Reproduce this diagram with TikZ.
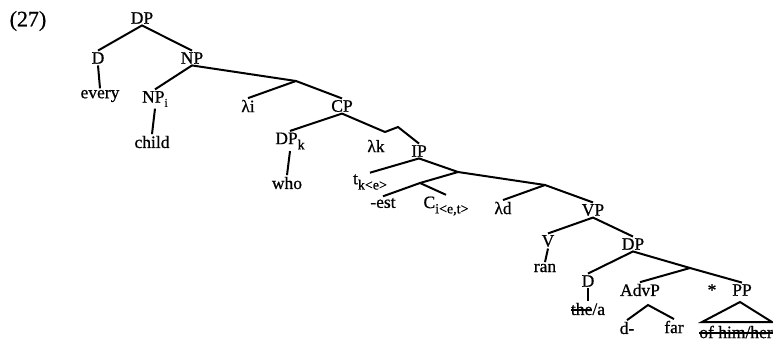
\documentclass[tikz,border=0pt]{standalone}
\usepackage{fontspec}
\setmainfont{Liberation Serif}
% slightly heavier serif for the tree labels
\newfontfamily\treefont{Liberation Serif}[FakeBold=0.7]
% strike a line through a piece of text
\newcommand\struck[1]{\setbox0\hbox{#1}\rlap{\rule[0.25em]{\wd0}{1.6pt}}\box0}
% lowered index, large or small
\newcommand\lowsub[1]{\raisebox{-0.3em}{\fontsize{14}{15}\selectfont #1}}
\newcommand\smallsub[1]{\raisebox{-0.25em}{\fontsize{12}{13}\selectfont #1}}
\begin{document}
\begin{tikzpicture}[x=1pt,y=-1pt,
    lbl/.style={inner sep=1.5pt, font=\treefont\fontsize{17.5}{19}\selectfont},
    branch/.style={line width=2pt}]
\useasboundingbox (0,0) rectangle (773,341);

% labels
\node[inner sep=0pt, font=\treefont\fontsize{22}{24}\selectfont] (ex) at (28,21) {(27)};
\node[lbl] (DP)    at (142,18) {DP};
\node[lbl] (D)     at (98,58)  {D};
\node[lbl] (every) at (100,96) {every};
\node[lbl] (NP)    at (192,58) {NP};
\node[lbl] (NPi)   at (155,99) {NP\smallsub{i}};
\node[lbl] (child) at (152,142){child};
\node[lbl] (li)    at (248,106){λi};
\node[lbl] (CP)    at (342,106){CP};
\node[lbl] (DPk)   at (290,141){DP\lowsub{k}};
\node[lbl] (who)   at (287,183){who};
\node[lbl] (lk)    at (376,146){λk};
\node[lbl] (IP)    at (419,151){IP};
\node[lbl] (tk)    at (370,182){t\lowsub{k<e>}};
\node[lbl] (est)   at (383,203){-est};
\node[lbl] (Ci)    at (446,206){C\lowsub{i<e,t>}};
\node[lbl] (ld)    at (503,208){λd};
\node[lbl] (VP)    at (593,210){VP};
\node[lbl] (V)     at (548,241){V};
\node[lbl] (ran)   at (545,268){ran};
\node[lbl] (DPb)   at (633,244){DP};
\node[lbl] (Db)    at (588,281){D};
\node[lbl] (thea)  at (588,309){\struck{the}/a};
\node[lbl] (AdvP)  at (640,290){AdvP};
\node[lbl] (star)  at (712,290){*};
\node[lbl] (PP)    at (742,290){PP};
\node[lbl] (dm)    at (627,328){d-};
\node[lbl] (far)   at (674,327){far};
\node[lbl] (ofhim) at (736,332){\struck{of him/her}};

% unlabelled branching points
\coordinate (j1)  at (296,81);
\coordinate (jcp) at (385,132);
\coordinate (jk)  at (398,127);
\coordinate (j2)  at (458,172);
\coordinate (j3)  at (420,183);
\coordinate (j4)  at (545,185);
\coordinate (j5)  at (690,268);
\coordinate (roof) at (648,305);
\coordinate (triA) at (740,302);
\coordinate (triL) at (702,322);
\coordinate (triR) at (772,322);

% branches
\draw[branch] (D.north) -- (DP.south) -- (NP.north);
\draw[branch] (D.south) -- (every.north);
\draw[branch] (NPi.north) -- (NP.south) -- (j1);
\draw[branch] (NPi.south) -- (child.north);
\draw[branch] (li.north) -- (j1) -- (CP.north);
\draw[branch] (DPk.north) -- (CP.south) -- (jcp);
\draw[branch] (DPk.south) -- (who.north);
\draw[branch] (jcp) -- (jk) -- (IP.north);
\draw[branch] (tk.north) -- (IP.south) -- (j2);
\draw[branch] (j3) -- (j2) -- (j4);
\draw[branch] (est.north) -- (j3) -- (Ci.north);
\draw[branch] (ld.north) -- (j4) -- (VP.north);
\draw[branch] (V.north) -- (VP.south) -- (DPb.north);
\draw[branch] (V.south) -- (ran.north);
\draw[branch] (Db.north) -- (DPb.south) -- (j5);
\draw[branch] (Db.south) -- (thea.north);
\draw[branch] (AdvP.north) -- (j5) -- (PP.north);
\draw[branch] (dm.north) -- (roof) -- (far.north);
\draw[branch] (triL) -- (triA) -- (triR) -- cycle;
\end{tikzpicture}
\end{document}
